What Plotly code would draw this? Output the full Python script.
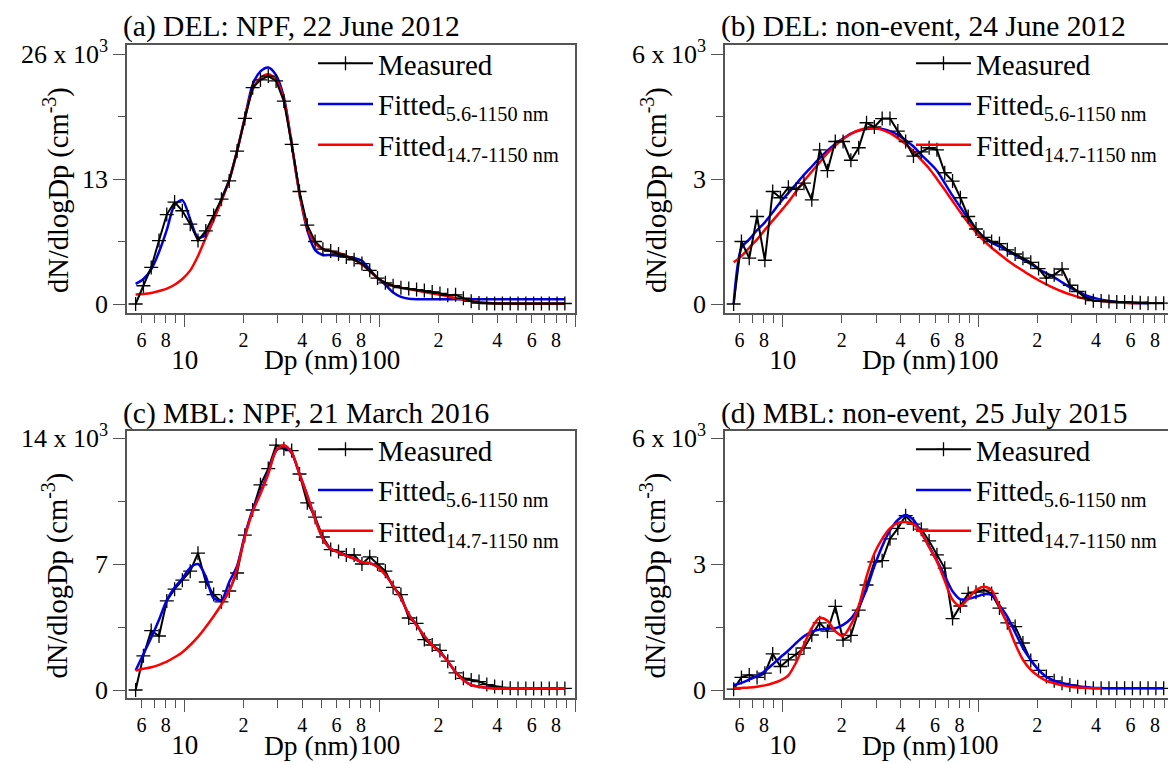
import plotly.graph_objects as go

# ---------------- data (dN/dlogDp in 10^3 cm^-3) ----------------
dp_nm = [5.60, 6.14, 6.73, 7.38, 8.09, 8.87, 9.72, 10.67, 11.69, 12.82, 14.06, 15.42, 16.90, 18.54,
         20.32, 22.28, 24.43, 26.79, 29.38, 32.21, 35.32, 38.73, 42.46, 46.56, 51.05, 55.98, 61.38,
         67.30, 73.79, 80.91, 88.72, 97.27, 106.7, 116.9, 128.2, 140.6, 154.2, 169.0, 185.4, 203.2,
         222.8, 244.3, 267.9, 293.8, 322.1, 353.2, 387.3, 424.6, 465.6, 510.5, 559.8, 613.8, 673.0,
         737.9, 809.1, 887.2]

a_measured = [0.0, 1.9, 3.8, 6.6, 9.3, 10.6, 9.7, 8.3, 6.6, 7.6, 9.2, 10.9, 12.8, 15.9, 19.3, 22.5,
              23.3, 23.7, 23.2, 21.1, 16.6, 11.7, 8.2, 6.5, 5.7, 5.5, 5.2, 4.9, 4.6, 4.2, 3.5, 2.7,
              2.2, 1.9, 1.7, 1.6, 1.5, 1.4, 1.25, 1.1, 0.9, 0.95, 0.6, 0.28, 0.1, 0.05, 0.05, 0.05,
              0.05, 0.05, 0.05, 0.05, 0.05, 0.05, 0.05, 0.05]
a_fit_full = [2.1, 2.6, 3.6, 5.4, 7.7, 10.3, 10.8, 8.8, 6.9, 7.2, 8.8, 10.9, 12.9, 15.9, 19.4, 22.8,
              24.2, 24.6, 23.8, 21.5, 16.6, 11.5, 7.7, 5.6, 5.1, 5.1, 5.0, 4.9, 4.8, 4.5, 3.6, 2.7,
              2.0, 1.2, 0.75, 0.55, 0.5, 0.5, 0.5, 0.5, 0.5, 0.5, 0.5, 0.5, 0.5, 0.5, 0.5, 0.5, 0.5,
              0.5, 0.5, 0.5, 0.5, 0.5, 0.5, 0.5]
a_fit_147 = [1.0, 1.05, 1.15, 1.35, 1.6, 2.0, 2.6, 3.5, 5.0, 6.9, 8.8, 10.7, 12.9, 15.9, 19.3, 22.3,
             23.5, 23.9, 23.3, 21.2, 16.6, 11.5, 8.0, 6.3, 5.7, 5.5, 5.3, 5.0, 4.6, 4.1, 3.4, 2.7,
             2.2, 1.9, 1.7, 1.55, 1.4, 1.25, 1.1, 0.95, 0.8, 0.6, 0.45, 0.3, 0.2, 0.12, 0.08, 0.05,
             0.03, 0.02, 0.02, 0.02, 0.02, 0.02, 0.02, 0.02]

b_measured = [0.0, 1.5, 1.1, 2.1, 1.05, 2.7, 2.55, 2.8, 2.75, 2.9, 2.5, 3.7, 3.2, 3.9, 3.9, 3.45,
              3.75, 4.35, 4.25, 4.45, 4.45, 4.15, 3.9, 3.55, 3.65, 3.75, 3.7, 3.15, 2.95, 2.55, 2.1,
              1.8, 1.6, 1.5, 1.45, 1.3, 1.2, 1.1, 1.0, 0.85, 0.62, 0.7, 0.84, 0.45, 0.3, 0.15, 0.08,
              0.07, 0.06, 0.05, 0.05, 0.04, 0.03, 0.02, 0.02, 0.02]
b_fit_full = [0.0, 1.35, 1.55, 1.77, 1.96, 2.2, 2.45, 2.66, 2.88, 3.1, 3.3, 3.5, 3.68, 3.84, 3.97,
              4.09, 4.16, 4.2, 4.22, 4.2, 4.15, 4.06, 3.93, 3.78, 3.58, 3.4, 3.2, 2.9, 2.6, 2.32,
              2.05, 1.8, 1.6, 1.47, 1.38, 1.28, 1.18, 1.07, 0.96, 0.84, 0.74, 0.64, 0.52, 0.4, 0.3,
              0.21, 0.15, 0.1, 0.07, 0.05, 0.04, 0.03, 0.02, 0.02, None, None]
b_fit_147 = [1.0, 1.15, 1.35, 1.55, 1.78, 2.0, 2.22, 2.45, 2.7, 2.95, 3.18, 3.4, 3.62, 3.8, 3.96,
             4.08, 4.17, 4.22, 4.22, 4.18, 4.1, 3.98, 3.84, 3.66, 3.46, 3.25, 3.0, 2.74, 2.47, 2.2,
             1.95, 1.72, 1.52, 1.35, 1.2, 1.05, 0.92, 0.8, 0.68, 0.57, 0.47, 0.38, 0.3, 0.23,
             0.17, 0.12, 0.09, 0.07, 0.05, 0.04, 0.03, 0.02, 0.03, 0.04, None, None]

c_measured = [0.0, 1.9, 3.3, 3.0, 4.95, 5.6, 6.1, 6.6, 7.6, 6.0, 5.3, 4.9, 5.5, 6.5, 8.6, 10.0,
              11.4, 12.3, 13.6, 13.4, 13.3, 12.0, 10.4, 9.6, 8.5, 7.8, 7.7, 7.5, 7.5, 7.0, 7.4, 7.0,
              6.6, 5.7, 5.3, 4.0, 3.7, 2.8, 2.5, 2.2, 1.6, 0.95, 0.65, 0.55, 0.47, 0.3, 0.2, 0.14,
              0.1, 0.09, 0.09, 0.09, 0.09, 0.09, 0.09, 0.09]
c_fit_full = [1.08, 2.0, 2.9, 3.9, 5.0, 5.7, 6.2, 6.8, 7.0, 6.3, 5.1, 5.0, 6.0, 6.9, 8.6, 10.0,
              11.0, 12.1, 13.3, 13.55, 13.15, 12.0, 10.8, 9.5, 8.4, 7.85, 7.65, 7.45, 7.3, 7.1,
              7.05, 6.85, 6.4, 5.8, 5.1, 4.2, 3.6, 3.0, 2.5, 2.1, 1.6, 1.0, 0.55, 0.28, 0.18, 0.12,
              0.09, 0.08, 0.08, 0.08, 0.08, 0.08, 0.08, 0.08, 0.08, 0.08]
c_fit_147 = [1.08, 1.18, 1.26, 1.4, 1.58, 1.82, 2.1, 2.5, 2.95, 3.5, 4.1, 4.75, 5.5, 6.75, 8.5, 9.9,
             10.9, 12.0, 13.3, 13.6, 13.2, 12.0, 10.8, 9.5, 8.4, 7.85, 7.65, 7.45, 7.3, 7.1, 7.05,
             6.85, 6.4, 5.8, 5.1, 4.2, 3.6, 3.0, 2.5, 2.1, 1.6, 1.0, 0.55, 0.28, 0.18, 0.12, 0.09,
             0.08, 0.08, 0.08, 0.08, 0.08, 0.08, 0.08, 0.08, 0.08]

d_measured = [0.02, 0.3, 0.36, 0.3, 0.4, 0.86, 0.56, 0.72, 0.85, 1.0, 1.31, 1.6, 1.4, 1.99, 1.19,
              1.3, 1.9, 2.5, 3.05, 3.08, 3.6, 3.85, 4.15, 3.95, 3.83, 3.55, 3.22, 2.9, 1.7, 2.0,
              2.3, 2.33, 2.38, 2.3, 1.95, 1.6, 1.51, 1.12, 0.7, 0.47, 0.32, 0.22, 0.16, 0.12, 0.08,
              0.06, 0.04, 0.04, 0.04, 0.04, 0.04, 0.04, 0.04, 0.04, 0.04, 0.04]
d_fit_full = [0.12, 0.17, 0.25, 0.33, 0.45, 0.61, 0.78, 0.94, 1.12, 1.28, 1.39, 1.44, 1.46, 1.47,
              1.55, 1.7, 1.98, 2.4, 2.95, 3.42, 3.8, 4.05, 4.17, 4.05, 3.75, 3.42, 3.08, 2.72, 2.35,
              2.16, 2.17, 2.22, 2.28, 2.26, 2.02, 1.75, 1.37, 1.0, 0.72, 0.48, 0.31, 0.22, 0.16,
              0.12, 0.09, 0.07, 0.05, 0.05, 0.04, 0.04, 0.04, 0.04, 0.04, 0.04, 0.04, 0.04]
d_fit_147 = [0.04, 0.05, 0.06, 0.08, 0.11, 0.16, 0.23, 0.35, 0.66, 1.08, 1.48, 1.72, 1.65, 1.4,
             1.29, 1.55, 2.0, 2.7, 3.25, 3.6, 3.85, 3.98, 4.0, 3.95, 3.75, 3.4, 3.06, 2.6, 2.15,
             2.0, 2.18, 2.38, 2.46, 2.38, 1.98, 1.58, 1.1, 0.72, 0.48, 0.33, 0.22, 0.16, 0.11,
             0.08, 0.06, 0.05, 0.04, 0.04, None, None, None, None, None, None, None, None]

panel_titles = ["(a) DEL: NPF, 22 June 2012", "(b) DEL: non-event, 24 June 2012",
                "(c) MBL: NPF, 21 March 2016", "(d) MBL: non-event, 25 July 2015"]
y_tickvals = [[0, 13, 26], [0, 3, 6], [0, 7, 14], [0, 3, 6]]
y_ticktext = [["0", "13", "26 x 10<sup>3</sup>"], ["0", "3", "6 x 10<sup>3</sup>"],
              ["0", "7", "14 x 10<sup>3</sup>"], ["0", "3", "6 x 10<sup>3</sup>"]]
y_minor = [[6.5, 19.5], [1.5, 4.5], [3.5, 10.5], [1.5, 4.5]]
x_tickvals = [6, 8, 20, 40, 60, 80, 200, 400, 600, 800]
x_ticktext = ["6", "8", "2", "4", "6", "8", "2", "4", "6", "8"]
x_minor_vals = [7, 9, 30, 50, 70, 90, 300, 500, 700, 900]
x_decades = [10, 100]
x_decade_labels = ["10", "100"]
x_decade_extra = [1000]
legend_names = ["Measured", "Fitted<sub>5.6-1150 nm</sub>", "Fitted<sub>14.7-1150 nm</sub>"]

# ---------------- layout helpers ----------------
W, H = 1168, 763
FONT = "Liberation Serif"
AXC = "#555555"


def fx(p):
    return p / W


def fy(p):
    return 1 - p / H


# pixel geometry: (left, right, top, bottom) of each frame
frames = [(127, 575, 45, 313), (725, 1168, 45, 313), (127, 575, 431, 698), (725, 1168, 431, 698)]
y_ranges = [[-0.936, 26.936], [-0.216, 6.216], [-0.444, 14.389], [-0.19, 6.167]]
x_ranges = [[0.704, 3.0], [0.704, 2.97], [0.704, 3.0], [0.704, 2.97]]

series = [(a_measured, a_fit_full, a_fit_147), (b_measured, b_fit_full, b_fit_147),
          (c_measured, c_fit_full, c_fit_147), (d_measured, d_fit_full, d_fit_147)]

fig = go.Figure()
layout = dict(width=W, height=H, margin=dict(l=0, r=0, t=0, b=0, autoexpand=False),
              paper_bgcolor="white", plot_bgcolor="white",
              font=dict(family=FONT, color="black"), showlegend=True)
annotations = []

for i in range(4):
    n = "" if i == 0 else str(i + 1)
    xa, ya = "x" + n, "y" + n
    xo = "x" + str(i + 5)          # overlaid axis (decade ticks), shares the same scale
    leg = "legend" + n
    meas, full, f147 = series[i]
    L, R, T, B = frames[i]

    # the trace drawn on top goes on the overlaid axis (same range -> same positions)
    top_is_measured = i < 2
    t_meas = go.Scatter(x=dp_nm, y=meas, mode="lines+markers", name=legend_names[0],
                        line=dict(color="black", width=2),
                        marker=dict(symbol="cross-thin", size=10, line=dict(width=1.3, color="black"),
                                    color="black"),
                        xaxis=xo if top_is_measured else xa, yaxis=ya, legend=leg, legendrank=1)
    t_full = go.Scatter(x=dp_nm, y=full, mode="lines", name=legend_names[1],
                        line=dict(color="#0000e6", width=2.5, shape="spline", smoothing=0.8),
                        xaxis=xa, yaxis=ya, legend=leg, legendrank=2)
    t_147 = go.Scatter(x=dp_nm, y=f147, mode="lines", name=legend_names[2],
                       line=dict(color="#ff0000", width=2.5, shape="spline", smoothing=0.8),
                       xaxis=xa if top_is_measured else xo, yaxis=ya, legend=leg, legendrank=3)
    if top_is_measured:
        fig.add_traces([t_full, t_147, t_meas])
    else:
        fig.add_traces([t_meas, t_full, t_147])

    right_clipped = R >= W
    layout["xaxis" + n] = dict(
        type="log", domain=[fx(L), fx(R)], range=x_ranges[i], anchor=ya,
        showline=True, linecolor=AXC, linewidth=1.5, mirror=True,
        ticks="outside", ticklen=8, tickwidth=1.3, tickcolor=AXC,
        tickmode="array", tickvals=x_tickvals, ticktext=x_ticktext,
        tickfont=dict(family=FONT, size=20, color="black"),
        minor=dict(tickmode="array", tickvals=x_minor_vals, ticks="outside", ticklen=8,
                   tickwidth=1.3, tickcolor=AXC),
        showgrid=False, zeroline=False)
    # overlaid axis carrying the long decade ticks and their larger labels (second row)
    layout["xaxis" + str(i + 5)] = dict(
        type="log", overlaying=xa, anchor=ya, side="bottom", range=x_ranges[i],
        showline=False, ticks="outside", ticklen=13, tickwidth=1.3, tickcolor=AXC,
        tickmode="array", tickvals=x_decades, ticktext=x_decade_labels,
        ticklabelstandoff=10,
        tickfont=dict(family=FONT, size=27, color="black"),
        minor=dict(tickmode="array", tickvals=x_decade_extra, ticks="outside", ticklen=13,
                   tickwidth=1.3, tickcolor=AXC),
        showgrid=False, zeroline=False)
    layout["yaxis" + n] = dict(
        domain=[fy(B), fy(T)], range=y_ranges[i], anchor=xa,
        showline=True, linecolor=AXC, linewidth=1.5, mirror=(not right_clipped),
        ticks="outside", ticklen=12, tickwidth=1.3, tickcolor=AXC,
        tickmode="array", tickvals=y_tickvals[i], ticktext=y_ticktext[i],
        tickfont=dict(family=FONT, size=26, color="black"),
        minor=dict(tickmode="array", tickvals=y_minor[i], ticks="outside", ticklen=7,
                   tickwidth=1.3, tickcolor=AXC),
        showgrid=False, zeroline=False)
    layout[leg] = dict(x=fx(L + 186), y=fy(T - 7), xanchor="left", yanchor="top",
                       bgcolor="rgba(0,0,0,0)", borderwidth=0,
                       font=dict(family=FONT, size=29, color="black"),
                       itemwidth=55, tracegroupgap=0)

    # panel title
    annotations.append(dict(text=panel_titles[i], xref="paper", yref="paper",
                            x=fx(L - 6), y=fy(T - 18), xanchor="left", yanchor="middle",
                            showarrow=False, font=dict(family=FONT, size=29.5, color="black")))
    # y-axis title
    annotations.append(dict(text="dN/dlogDp (cm<sup>-3</sup>)", xref="paper", yref="paper",
                            x=fx(L - 71), y=fy((T + B) / 2 + 11), textangle=-90,
                            xanchor="center", yanchor="middle", showarrow=False,
                            font=dict(family=FONT, size=28.5, color="black")))
    # x-axis title, placed just left of the "100" label as in the original
    x100 = L + (2 - x_ranges[i][0]) / (x_ranges[i][1] - x_ranges[i][0]) * (R - L)
    annotations.append(dict(text="Dp (nm)", xref="paper", yref="paper", x=fx(x100 - 20),
                            y=fy(B + 47), xanchor="right", yanchor="middle", showarrow=False,
                            font=dict(family=FONT, size=27.5, color="black")))

layout["annotations"] = annotations
fig.update_layout(**layout)

fig.write_html("out.html", config={"displayModeBar": False},
               post_script="document.body.style.margin='0';document.body.style.overflow='hidden';")
